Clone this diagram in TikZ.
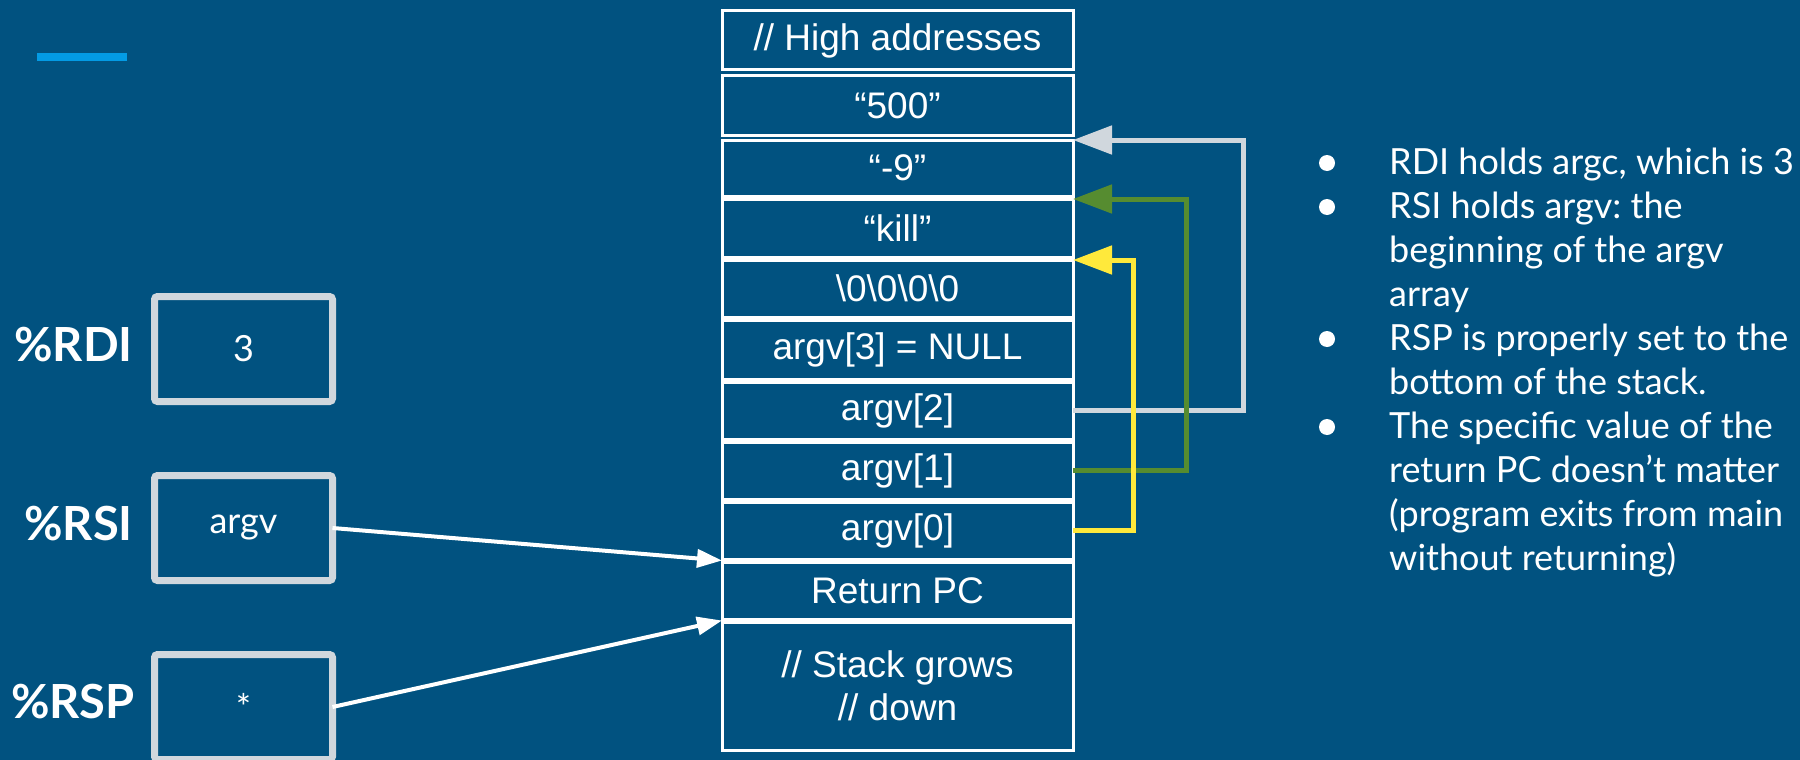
\documentclass[tikz,border=0pt]{standalone}
\usepackage{fontspec}
\usetikzlibrary{arrows.meta,calc}
\newfontfamily\lato{Lato}
\newfontfamily\arial{Liberation Sans}
\frenchspacing

\definecolor{slidebg}{RGB}{1,82,128}
\definecolor{accentbar}{RGB}{3,155,229}
\definecolor{regframe}{RGB}{208,215,221}
\definecolor{ptrgreen}{RGB}{86,140,48}
\definecolor{ptryellow}{RGB}{255,233,59}

\tikzset{
  cell/.style={draw=white, line width=3, minimum width=351, inner sep=0, outer sep=0,
    text=white, font=\arial\fontsize{37}{43}\selectfont, align=center},
  regbox/.style={draw=regframe, line width=7, rounded corners=3, minimum width=178,
    minimum height=105, inner sep=0, outer sep=0, text=white},
  reglabel/.style={anchor=base east, inner sep=0, text=white, font=\lato\bfseries\fontsize{47}{50}\selectfont},
  bulletline/.style={anchor=base west, inner sep=0, text=white, font=\lato\fontsize{36}{44}\selectfont},
  bulletdot/.style={circle, fill=white, minimum size=16, inner sep=0},
  regptr/.style={draw=white, line width=4, -{Triangle[length=25, width=18]}},
  strptr/.style={line width=5, -{Triangle[length=39, width=28]}}
}

\begin{document}
\frenchspacing
\begin{tikzpicture}[x=1pt, y=-1pt]
  % slide background and page extent
  \fill[slidebg] (0,0) rectangle (1800,760);
  \useasboundingbox (0,0) rectangle (1800,760);

  % title accent bar
  \fill[accentbar] (37,53) rectangle (127,61);

  % stack cells, high addresses at the top
  \node[cell, minimum height=59]  (r1)  at (897.5,40.5)  {// High addresses};
  \node[cell, minimum height=59]  (r2)  at (897.5,105.5) {“500”};
  \node[cell, minimum height=56]  (r3)  at (897.5,168)   {“-9”};
  \node[cell, minimum height=58]  (r4)  at (897.5,228)   {“kill”};
  \node[cell, minimum height=57]  (r5)  at (897.5,288.5) {\textbackslash 0\textbackslash 0\textbackslash 0\textbackslash 0};
  \node[cell, minimum height=59]  (r6)  at (897.5,349.5) {argv[3] = NULL};
  \node[cell, minimum height=57]  (r7)  at (897.5,410.5) {argv[2]};
  \node[cell, minimum height=57]  (r8)  at (897.5,470.5) {argv[1]};
  \node[cell, minimum height=57]  (r9)  at (897.5,530.5) {argv[0]};
  \node[cell, minimum height=57]  (r10) at (897.5,590.5) {Return PC};
  \node[cell, minimum height=128] (r11) at (897.5,686)   {// Stack grows\\// down};

  % registers
  \node[regbox] (rdi) at (243.5,349) {\lato\fontsize{36}{40}\selectfont 3};
  \node[regbox] (rsi) at (243.5,528) {\lato\fontsize{36}{40}\selectfont argv};
  \node[regbox] (rsp) at (243.5,707) {\lato\fontsize{36}{40}\selectfont *};
  \node[reglabel] (lrdi) at (133,361) {\%RDI};
  \node[reglabel] (lrsi) at (133,540) {\%RSI};
  \node[reglabel] (lrsp) at (135,718) {\%RSP};

  % register pointers into the stack
  \coordinate (argvbase) at ($(r9.south west)!0.5!(r10.north west)$);
  \coordinate (spbase)   at ($(r10.south west)!0.5!(r11.north west)$);
  \draw[regptr] (rsi.east) -- (argvbase);
  \draw[regptr] (rsp.east) -- (spbase);

  % argv entries pointing at their strings
  \draw[strptr, draw=regframe] (r7.east) -- ++(170,0) |- (r3.north east);
  \draw[strptr, draw=ptrgreen] (r8.east) -- ++(113,0) |- (r4.north east);
  \draw[strptr, draw=ptryellow] (r9.east) -- ++(60,0) |- (r5.north east);

  % notes
  \node[bulletdot] (d1) at (1327,163) {};
  \node[bulletdot] (d2) at (1327,207) {};
  \node[bulletdot] (d3) at (1327,339) {};
  \node[bulletdot] (d4) at (1327,427) {};
  \node[bulletline] (t1)  at (1389,174) {RDI holds argc, which is 3};
  \node[bulletline] (t2)  at (1389,218) {RSI holds argv: the};
  \node[bulletline] (t3)  at (1389,262) {beginning of the argv};
  \node[bulletline] (t4)  at (1389,306) {array};
  \node[bulletline] (t5)  at (1389,350) {RSP is properly set to the};
  \node[bulletline] (t6)  at (1389,394) {bottom of the stack.};
  \node[bulletline] (t7)  at (1389,438) {The specific value of the};
  \node[bulletline] (t8)  at (1389,482) {return PC doesn’t matter};
  \node[bulletline] (t9)  at (1389,526) {(program exits from main};
  \node[bulletline] (t10) at (1389,570) {without returning)};
\end{tikzpicture}
\end{document}
